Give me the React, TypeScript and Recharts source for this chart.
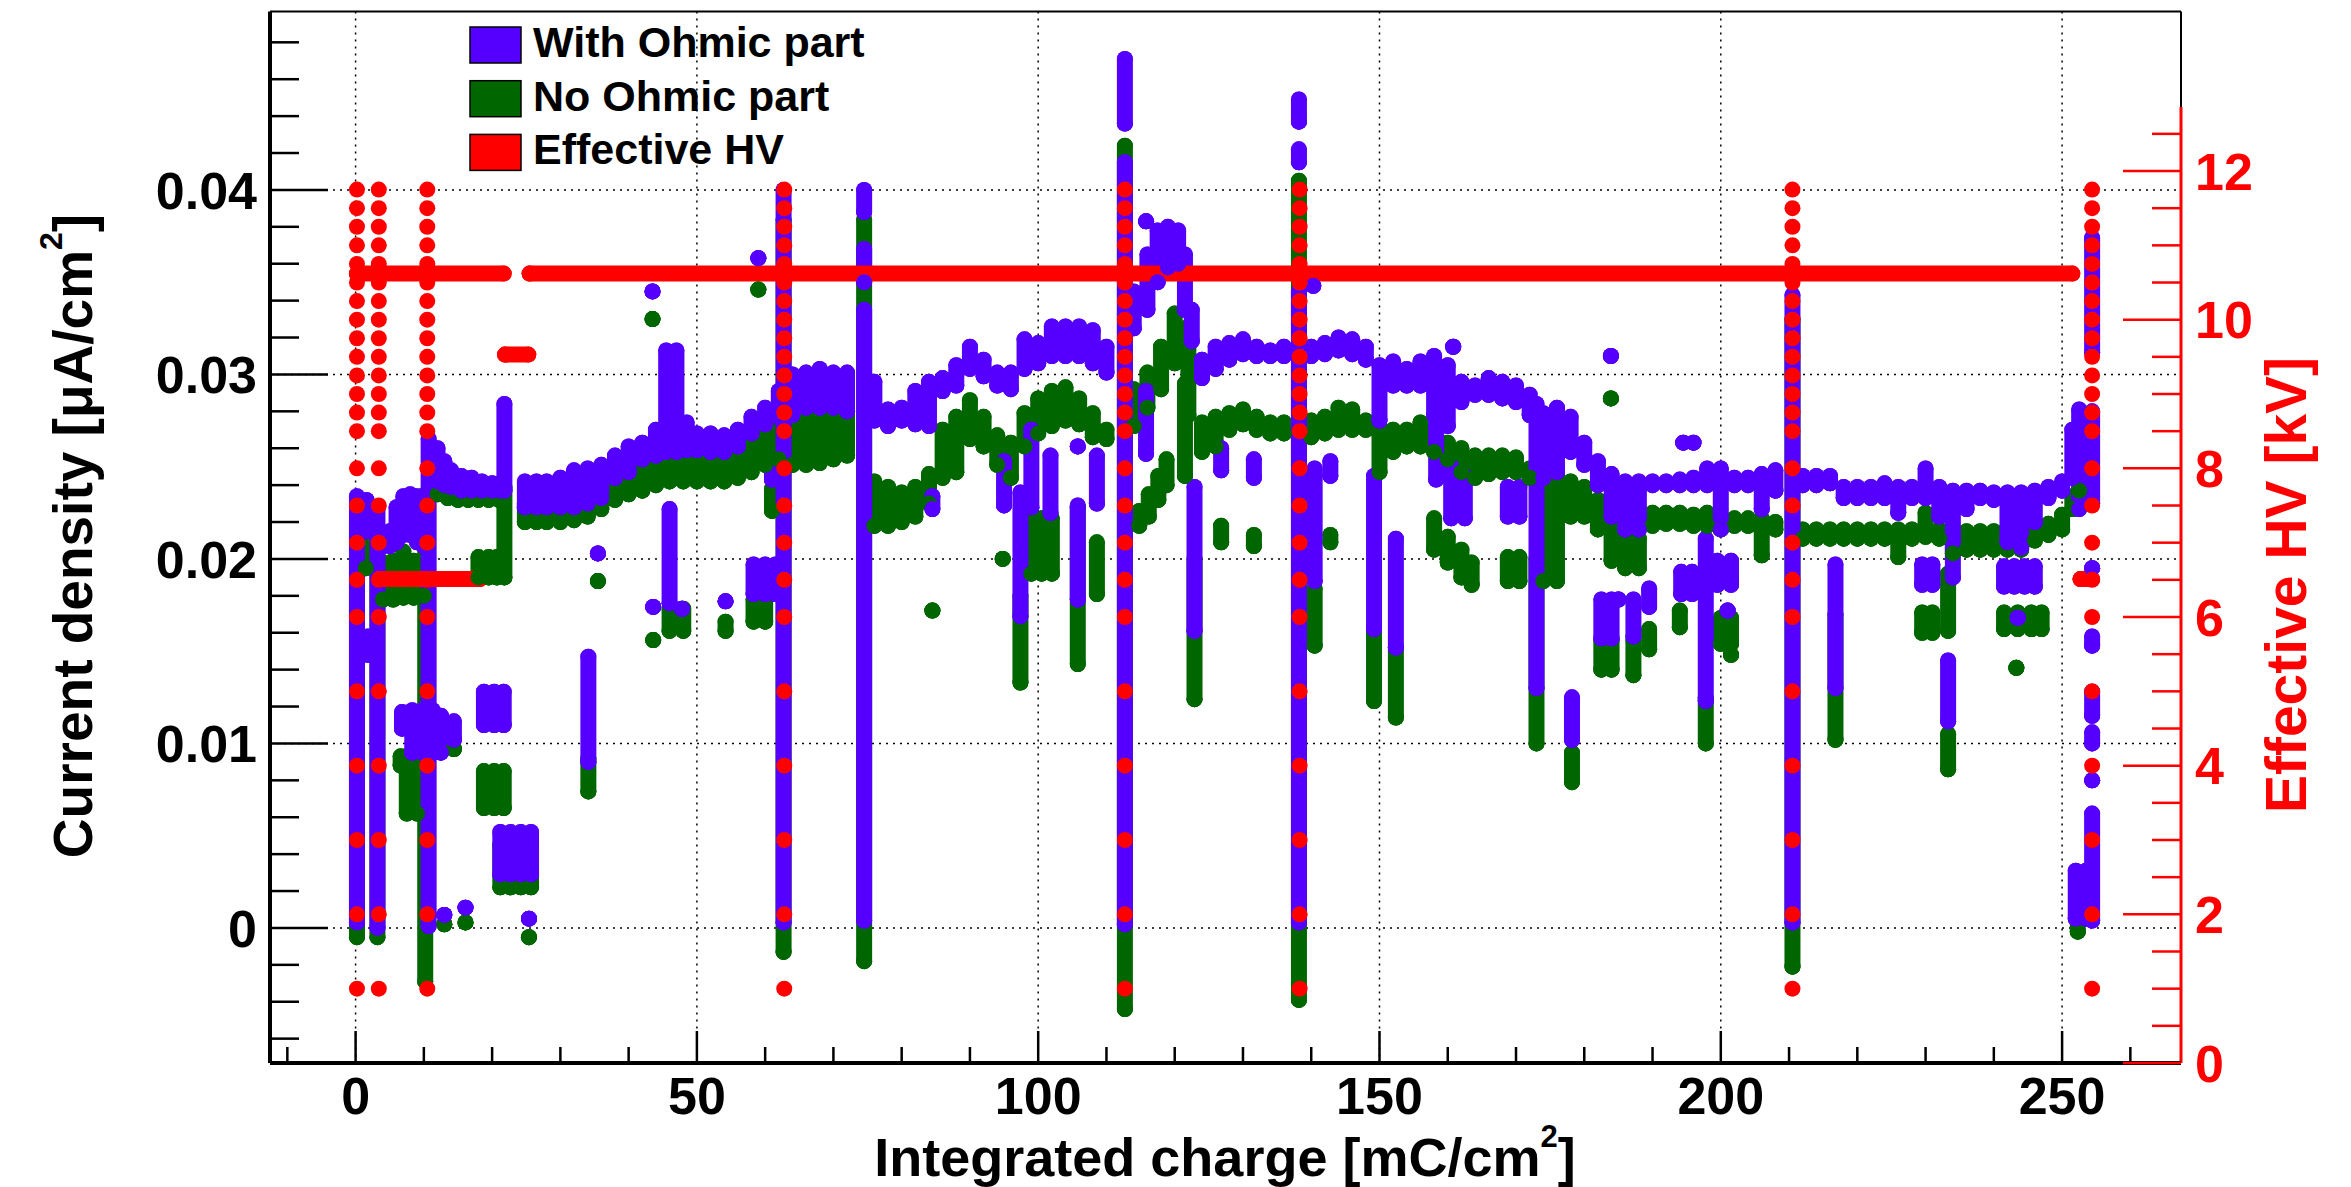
import React from 'react';
import { ScatterChart, Scatter, XAxis, YAxis, ErrorBar, CartesianGrid, ReferenceLine } from 'recharts';

const BLUE = '#5500ff';
const GREEN = '#006600';
const RED = '#ff0000';
const FONT = '"Liberation Sans", Arial, Helvetica, sans-serif';

// strips of markers: [integrated charge, lowest, highest] current density (uA/cm2)
const withOhmicBand = [
  [4, 0.0207, 0.0211], [5, 0.0207, 0.0215], [6, 0.0209, 0.0228], [7, 0.0213, 0.0234], [8, 0.0213, 0.0235],
  [9, 0.0209, 0.0234], [10, 0.0207, 0.0232], [12, 0.0242, 0.026], [13, 0.024, 0.0253], [14, 0.0239, 0.0248],
  [15.5, 0.0237, 0.0245], [17, 0.0237, 0.0244], [18.5, 0.0237, 0.0242], [20, 0.0237, 0.0241], [21.2, 0.0237, 0.0241],
  [24.8, 0.0228, 0.0242], [26.5, 0.0228, 0.0242], [28, 0.0228, 0.0242], [30, 0.0228, 0.0244], [32, 0.0228, 0.0248],
  [34, 0.023, 0.0249], [36, 0.0233, 0.0251], [38, 0.0244, 0.0256], [40, 0.0247, 0.0261], [42, 0.0254, 0.0263],
  [44, 0.0256, 0.027], [45.5, 0.0258, 0.0313], [47, 0.0258, 0.0313], [48.5, 0.0259, 0.0274], [50, 0.0259, 0.0268],
  [52, 0.0258, 0.0268], [54, 0.0258, 0.0267], [56, 0.0261, 0.027], [58, 0.0268, 0.0277], [60, 0.0273, 0.0282],
  [62, 0.0277, 0.0291], [64, 0.0278, 0.03], [66, 0.0282, 0.0301], [68, 0.0282, 0.0303], [70, 0.0282, 0.0301],
  [72, 0.028, 0.0301], [76, 0.0275, 0.0296], [78, 0.0272, 0.0281], [80, 0.0275, 0.0282], [82, 0.0273, 0.0291],
  [84, 0.0272, 0.0296], [86, 0.0291, 0.0298], [88, 0.0294, 0.0305], [90, 0.0303, 0.0315], [92, 0.0299, 0.0308],
  [94, 0.0294, 0.0301], [96, 0.0292, 0.0301], [98, 0.0303, 0.0319], [100, 0.0306, 0.0317], [102, 0.031, 0.0326],
  [104, 0.031, 0.0326], [106, 0.031, 0.0326], [108, 0.0306, 0.0324], [110, 0.0301, 0.0315], [114, 0.0325, 0.0345],
  [116, 0.0335, 0.0365], [117.5, 0.035, 0.0378], [119, 0.0358, 0.038], [120.5, 0.036, 0.0378], [121.5, 0.0335, 0.0365],
  [122.5, 0.0318, 0.0335], [124, 0.0298, 0.0308], [126, 0.0303, 0.0315], [128, 0.0308, 0.0317], [130, 0.0311, 0.0319],
  [132, 0.031, 0.0315], [134, 0.031, 0.0313], [136, 0.031, 0.0315], [140, 0.031, 0.0315], [142, 0.0311, 0.0317],
  [144, 0.0313, 0.032], [146, 0.0311, 0.0319], [148, 0.0308, 0.0315], [150, 0.0275, 0.0305], [152, 0.0294, 0.0307],
  [154, 0.0294, 0.0303], [156, 0.0294, 0.0307], [158, 0.0278, 0.031], [160, 0.0272, 0.0305], [162, 0.0285, 0.0296],
  [164, 0.0289, 0.0294], [166, 0.0289, 0.0298], [168, 0.0287, 0.0296], [170, 0.0285, 0.0294], [172, 0.0278, 0.0289],
  [174, 0.0244, 0.0279], [176, 0.0247, 0.0282], [178, 0.0258, 0.0277], [180, 0.0251, 0.0263], [182, 0.024, 0.0253],
  [184, 0.0223, 0.0246], [186, 0.0216, 0.0242], [188, 0.0216, 0.0242], [190, 0.024, 0.0242], [192, 0.024, 0.0242],
  [194, 0.024, 0.0243], [196, 0.024, 0.0244], [198, 0.024, 0.0249], [200, 0.0216, 0.0249], [202, 0.024, 0.0244],
  [204, 0.024, 0.0244], [206, 0.0227, 0.0246], [208, 0.0237, 0.0248], [212, 0.024, 0.0245], [214, 0.024, 0.0245],
  [216, 0.0241, 0.0245], [218, 0.0233, 0.0239], [220, 0.0233, 0.0239], [222, 0.0233, 0.0239], [224, 0.0233, 0.0241],
  [226, 0.0225, 0.0239], [228, 0.0233, 0.0239], [230, 0.0233, 0.0249], [232, 0.0223, 0.0239], [234, 0.019, 0.0237],
  [236, 0.0227, 0.0237], [238, 0.0233, 0.0237], [240, 0.0232, 0.0236], [242, 0.0209, 0.0236], [244, 0.0206, 0.0236],
  [246, 0.022, 0.0237], [248, 0.0233, 0.0239], [250, 0.0237, 0.0242], [251.5, 0.0244, 0.027], [252.5, 0.0227, 0.0281],
];

const withOhmicSpikes = [
  [0.2, 0.0003, 0.0234], [1.6, 0.0215, 0.0232], [1.8, 0.0148, 0.0158], [3.2, 0, 0.0227],
  [6.8, 0.0108, 0.0117], [8.3, 0.0095, 0.0118], [9.8, 0.0095, 0.0118], [11.3, 0.0095, 0.0118],
  [12.5, 0.0095, 0.0115], [10.7, 0.0001, 0.0265], [14.4, 0.0102, 0.0112], [13, 0.0007, 0.0007], [16.1, 0.0011, 0.0011],
  [25.4, 0.0005, 0.0005], [18.8, 0.011, 0.0128], [20.3, 0.011, 0.0128], [21.7, 0.011, 0.0128], [21.2, 0.0029, 0.0052],
  [22.7, 0.0029, 0.0052], [24.2, 0.0029, 0.0052], [25.7, 0.0029, 0.0052], [21.8, 0.0237, 0.0284], [34.1, 0.009, 0.0147],
  [35.5, 0.0203, 0.0203], [43.5, 0.0345, 0.0345], [59, 0.0363, 0.0363], [43.6, 0.0174, 0.0174], [46, 0.0176, 0.0227],
  [47.8, 0.0173, 0.0173], [54.2, 0.0177, 0.0177], [58.3, 0.0181, 0.0197], [60, 0.0181, 0.0197], [61.5, 0.0181, 0.0197],
  [61, 0.0243, 0.025], [62.7, 0.0003, 0.04], [74.5, 0.0004, 0.0335], [74.5, 0.035, 0.0368], [74.5, 0.0388, 0.04],
  [84.5, 0.0227, 0.0234], [95, 0.0229, 0.0253], [97.4, 0.0169, 0.0236], [99, 0.0228, 0.027], [101.8, 0.0225, 0.0256],
  [105.8, 0.0178, 0.0229], [105.8, 0.0261, 0.0261], [108.6, 0.023, 0.0256], [112.7, 0.0002, 0.0415], [112.7, 0.0436, 0.0471],
  [115.8, 0.0383, 0.0383], [115.8, 0.0257, 0.0291], [122.9, 0.0161, 0.0239], [126.8, 0.0248, 0.026], [131.6, 0.0244, 0.0254],
  [138.2, 0.0003, 0.0345], [138.2, 0.0415, 0.0422], [138.2, 0.0437, 0.0449], [140.3, 0.0348, 0.0348], [140.5, 0.0188, 0.0249],
  [142.8, 0.0245, 0.0253], [149.2, 0.0162, 0.0245], [152.4, 0.0152, 0.0211], [158.3, 0.0243, 0.0274], [160.5, 0.0222, 0.025],
  [162.5, 0.0222, 0.0245], [160.8, 0.0315, 0.0315], [168.8, 0.0223, 0.0239], [170.5, 0.0223, 0.0239], [173, 0.013, 0.0284],
  [178.2, 0.0102, 0.0125], [182.5, 0.0157, 0.0178], [184, 0.0157, 0.0178], [187.2, 0.0158, 0.0178], [185, 0.0178, 0.0178],
  [189.5, 0.0174, 0.0184], [183.9, 0.031, 0.031], [194.5, 0.0263, 0.0263], [196, 0.0263, 0.0263], [194.2, 0.0181, 0.0193],
  [195.8, 0.0181, 0.0193], [197.8, 0.0123, 0.0211], [199.5, 0.0186, 0.0199], [201.5, 0.0186, 0.0199], [201, 0.0172, 0.0172],
  [210.5, 0.0003, 0.0343], [216.8, 0.013, 0.0197], [229.5, 0.0186, 0.0197], [231, 0.0186, 0.0197], [233.3, 0.0112, 0.0145],
  [241.5, 0.0185, 0.0196], [243, 0.0185, 0.0196], [244.5, 0.0185, 0.0196], [246, 0.0185, 0.0196], [243.5, 0.0168, 0.0168],
  [252, 0.0005, 0.0031], [253.5, 0.0005, 0.0031], [254.4, 0.0004, 0.0062], [254.4, 0.008, 0.008], [254.4, 0.01, 0.0106],
  [254.4, 0.0115, 0.0128], [254.4, 0.0153, 0.0158], [254.4, 0.0195, 0.0195], [254.4, 0.023, 0.028], [254.4, 0.0312, 0.0374],
];

const noOhmicBand = [
  [4, 0.0178, 0.0198], [5.5, 0.0178, 0.0199], [7, 0.0179, 0.0204], [8.5, 0.0179, 0.0199], [10, 0.018, 0.0198],
  [12, 0.0235, 0.0242], [13.5, 0.0233, 0.024], [15, 0.0232, 0.0238], [16.5, 0.0232, 0.0238], [18, 0.0232, 0.0238],
  [19.5, 0.0232, 0.0238], [21, 0.0232, 0.0238], [24.8, 0.022, 0.023], [26.5, 0.022, 0.023], [28, 0.022, 0.023],
  [30, 0.022, 0.023], [32, 0.0221, 0.0231], [34, 0.0223, 0.0233], [36, 0.0227, 0.0236], [38, 0.0232, 0.0246],
  [40, 0.0235, 0.025], [42, 0.0237, 0.0253], [44, 0.024, 0.0255], [46, 0.0242, 0.0257], [48, 0.0242, 0.0257],
  [50, 0.0242, 0.0257], [52, 0.0242, 0.0257], [54, 0.0242, 0.0257], [56, 0.0244, 0.026], [58, 0.0247, 0.0265],
  [60, 0.0251, 0.027], [62, 0.0254, 0.0275], [64, 0.0251, 0.0277], [66, 0.0251, 0.0278], [68, 0.0252, 0.0278],
  [70, 0.0254, 0.0278], [72, 0.0256, 0.0278], [76, 0.0218, 0.0242], [78, 0.0218, 0.0239], [80, 0.022, 0.0236],
  [82, 0.0223, 0.0239], [84, 0.023, 0.0246], [86, 0.0244, 0.027], [88, 0.0247, 0.0277], [90, 0.0265, 0.0286],
  [92, 0.0261, 0.0277], [94, 0.0251, 0.0267], [96, 0.0244, 0.0263], [98, 0.0261, 0.0279], [100, 0.0268, 0.0287],
  [102, 0.0272, 0.0291], [104, 0.0275, 0.0293], [106, 0.0273, 0.0287], [108, 0.0266, 0.0279], [110, 0.0265, 0.027],
  [114, 0.0272, 0.0292], [116, 0.0282, 0.0301], [118, 0.0292, 0.0315], [120, 0.0306, 0.0333], [122, 0.0278, 0.0326],
  [124, 0.0258, 0.0274], [126, 0.0261, 0.0277], [128, 0.027, 0.0279], [130, 0.0273, 0.0281], [132, 0.027, 0.0277],
  [134, 0.0268, 0.0274], [136, 0.0268, 0.0274], [140, 0.0266, 0.0275], [142, 0.0268, 0.0277], [144, 0.027, 0.0282],
  [146, 0.027, 0.0281], [148, 0.027, 0.0275], [150, 0.0247, 0.0272], [152, 0.0258, 0.027], [154, 0.0261, 0.027],
  [156, 0.0261, 0.0274], [158, 0.0258, 0.027], [160, 0.0254, 0.0263], [162, 0.0247, 0.026], [164, 0.0244, 0.0256],
  [166, 0.0246, 0.0256], [168, 0.0247, 0.0256], [170, 0.0247, 0.0255], [172, 0.0244, 0.0249], [174, 0.0188, 0.0253],
  [176, 0.0188, 0.0249], [178, 0.0223, 0.0242], [180, 0.0223, 0.0239], [182, 0.0216, 0.0232], [184, 0.0199, 0.0222],
  [186, 0.0195, 0.0215], [188, 0.0195, 0.0211], [190, 0.0218, 0.0225], [192, 0.0219, 0.0225], [194, 0.0219, 0.0225],
  [196, 0.0218, 0.0224], [198, 0.0218, 0.0225], [200, 0.0216, 0.0222], [202, 0.0218, 0.0222], [204, 0.0218, 0.0222],
  [206, 0.0202, 0.0222], [208, 0.0216, 0.022], [212, 0.0211, 0.0216], [214, 0.0211, 0.0216], [216, 0.0211, 0.0216],
  [218, 0.0211, 0.0216], [220, 0.0211, 0.0216], [222, 0.0211, 0.0216], [224, 0.0211, 0.0216], [226, 0.0201, 0.0216],
  [228, 0.0211, 0.0216], [230, 0.0212, 0.0225], [232, 0.0211, 0.0216], [234, 0.0203, 0.0216], [236, 0.0205, 0.0215],
  [238, 0.0205, 0.0215], [240, 0.0205, 0.0215], [242, 0.0205, 0.0215], [244, 0.0205, 0.0215], [246, 0.021, 0.0217],
  [248, 0.0213, 0.0219], [250, 0.0216, 0.0224], [251.5, 0.0227, 0.0234], [252.5, 0.0237, 0.0253],
];

const noOhmicSpikes = [
  [0.2, -0.0005, 0.022], [1.5, 0.0195, 0.0215], [3.2, -0.0005, 0.0215],
  [6.6, 0.0088, 0.0093], [7.5, 0.0062, 0.0093], [9, 0.0062, 0.0093], [10.2, -0.0029, 0.0235], [14.4, 0.0097, 0.0097],
  [13, 0.0002, 0.0002], [16.1, 0.0003, 0.0003], [25.4, -0.0005, -0.0005], [18.8, 0.0065, 0.0085], [20.3, 0.0065, 0.0085],
  [21.7, 0.0065, 0.0085], [21.2, 0.0022, 0.0045], [22.7, 0.0022, 0.0045], [24.2, 0.0022, 0.0045], [25.7, 0.0022, 0.0045],
  [18, 0.019, 0.0201], [19.5, 0.019, 0.0201], [20.7, 0.019, 0.0201], [21.8, 0.019, 0.0239], [34.1, 0.0074, 0.0092],
  [35.5, 0.0188, 0.0188], [43.5, 0.033, 0.033], [59, 0.0346, 0.0346], [43.6, 0.0156, 0.0156], [46, 0.0161, 0.0173],
  [48, 0.0161, 0.0173], [54.2, 0.0161, 0.0166], [58.3, 0.0166, 0.0178], [60, 0.0166, 0.0178], [61, 0.0226, 0.0238],
  [62.7, -0.0013, 0.0384], [74.5, -0.0018, 0.0384], [84.5, 0.0172, 0.0172], [94.8, 0.02, 0.02], [97.4, 0.0133, 0.018],
  [99, 0.0192, 0.0222], [100.5, 0.0192, 0.0222], [102, 0.0192, 0.0222], [105.8, 0.0143, 0.0228], [108.6, 0.0181, 0.0209],
  [112.7, -0.0044, 0.0424], [114.8, 0.0218, 0.0226], [116.2, 0.0223, 0.0235], [117.6, 0.0232, 0.0245], [118.8, 0.024, 0.0254],
  [121.5, 0.0245, 0.0295], [122.9, 0.0124, 0.02], [126.8, 0.0209, 0.0218], [131.6, 0.0207, 0.0213], [138.2, -0.0039, 0.0405],
  [140.5, 0.0153, 0.0184], [142.8, 0.0209, 0.0213], [149.2, 0.0123, 0.016], [152.4, 0.0114, 0.0152], [158, 0.0205, 0.0222],
  [160, 0.0198, 0.0212], [162, 0.019, 0.0205], [163.5, 0.0186, 0.0198], [168.8, 0.0188, 0.0201], [170.5, 0.0188, 0.0201],
  [173, 0.01, 0.02], [178.2, 0.0079, 0.0095], [182.5, 0.014, 0.0156], [184, 0.014, 0.0156], [187.2, 0.0137, 0.0156],
  [189.5, 0.0151, 0.0162], [183.9, 0.0287, 0.0287], [194, 0.0163, 0.0172], [197.8, 0.01, 0.0125], [200, 0.0154, 0.0168],
  [201.5, 0.0154, 0.0168], [201.5, 0.0148, 0.0148], [210.5, -0.0021, 0.033], [216.8, 0.0102, 0.017], [229.5, 0.016, 0.0171],
  [231, 0.016, 0.0171], [233.3, 0.0161, 0.0192], [233.3, 0.0086, 0.0105], [241.5, 0.0162, 0.0171], [243.5, 0.0162, 0.0171],
  [245.5, 0.0162, 0.0171], [247, 0.0162, 0.0171], [243.3, 0.0141, 0.0141], [252.3, -0.0002, 0.0012],
];

// effective HV (kV): scans at these integrated charges, over these steps
const hvScanCharges = [0.2, 3.4, 10.5, 62.8, 112.7, 138.3, 210.5, 254.4];
const hvScanSteps = [11.75, 11.5, 11.25, 11, 10.75, 10.5, 10.25, 10, 9.75, 9.5, 9.25, 9, 8.75, 8.5, 8, 7.5, 7, 6.5, 6, 5, 4, 3, 2, 1];
// [from charge, to charge, kV]
const hvPlateaus = [
  [0.2, 21.7, 10.62], [25.5, 251.5, 10.62], [3.5, 18.2, 6.51], [21.9, 25.3, 9.53], [252.7, 254.4, 6.51],
];

const chargeMajorTicks = [0, 50, 100, 150, 200, 250];
const chargeMinorTicks = [-10, 10, 20, 30, 40, 60, 70, 80, 90, 110, 120, 130, 140, 160, 170, 180, 190, 210, 220, 230, 240, 260];
const currentMajorTicks = [0, 0.01, 0.02, 0.03, 0.04];
const currentMinorTicks = [-0.006, -0.004, -0.002, 0.002, 0.004, 0.006, 0.008, 0.012, 0.014, 0.016, 0.018, 0.022, 0.024,
  0.026, 0.028, 0.032, 0.034, 0.036, 0.038, 0.042, 0.044, 0.046, 0.048];
const hvMajorTicks = [0, 2, 4, 6, 8, 10, 12];
const hvMinorTicks = [0.5, 1, 1.5, 2.5, 3, 3.5, 4.5, 5, 5.5, 6.5, 7, 7.5, 8.5, 9, 9.5, 10.5, 11, 11.5, 12.5];

const CHARGE_DOMAIN = [-12.54, 267.42];
const CURRENT_DOMAIN = [-0.00732, 0.04967];
const HV_DOMAIN = [0, 14.146];
const HV_AXIS_TOP = 12.86;

const toStrips = (rows: number[][]) => rows.map(([q, lo, hi]) => ({ q, lo, err: [0, hi - lo] }));
const blueData = toStrips([...withOhmicBand, ...withOhmicSpikes]);
const greenData = toStrips([...noOhmicBand, ...noOhmicSpikes]);
const hvScanData = hvScanCharges.flatMap((q) => hvScanSteps.map((kv) => ({ q, kv })));
const hvPlateauData = hvPlateaus.map(([a, b, kv]) => ({ q: a, kv, span: [0, b - a] }));

const isIn = (list: number[], v: number) => list.some((t) => Math.abs(t - v) < 1e-9);
const sortNum = (a: number[]) => [...a].sort((x, y) => x - y);

const TICK_FS = 52;
const R = 8;

const dot = (color: string) => (p: any) => <circle cx={p.cx} cy={p.cy} r={R} fill={color} />;

const ChargeTick = (props: any) => {
  const { x, y, payload } = props;
  const major = isIn(chargeMajorTicks, payload.value);
  return (
    <g>
      <line x1={x} x2={x} y1={y} y2={y - (major ? 32 : 16)} stroke="#000" strokeWidth={2.5} />
      {major && (
        <text x={x} y={y + 51} textAnchor="middle" fontFamily={FONT} fontWeight="bold" fontSize={TICK_FS} fill="#000">
          {String(payload.value)}
        </text>
      )}
    </g>
  );
};

const CurrentTick = (props: any) => {
  const { x, y, payload } = props;
  const major = isIn(currentMajorTicks, payload.value);
  return (
    <g>
      <line x1={x} x2={x + (major ? 58 : 29)} y1={y} y2={y} stroke="#000" strokeWidth={2.5} />
      {major && (
        <text x={x - 13} y={y + 0.36 * TICK_FS} textAnchor="end" fontFamily={FONT} fontWeight="bold" fontSize={TICK_FS} fill="#000">
          {String(payload.value)}
        </text>
      )}
    </g>
  );
};

const HvTick = (props: any) => {
  const { x, y, payload } = props;
  const major = isIn(hvMajorTicks, payload.value);
  return (
    <g>
      <line x1={x} x2={x - (major ? 58 : 29)} y1={y} y2={y} stroke={RED} strokeWidth={2.5} />
      {major && (
        <text x={x + 14} y={y + 0.36 * TICK_FS} textAnchor="start" fontFamily={FONT} fontWeight="bold" fontSize={TICK_FS} fill={RED}>
          {String(payload.value)}
        </text>
      )}
    </g>
  );
};

const legendItems = [
  { label: 'With Ohmic part', color: BLUE },
  { label: 'No Ohmic part', color: GREEN },
  { label: 'Effective HV', color: RED },
];

export default function App() {
  return (
    <div style={{ position: 'absolute', left: 0, top: 0, width: 2351, height: 1187, background: '#fff' }}>
      <ScatterChart width={2351} height={1187} margin={{ top: 10.5, right: 169, bottom: 123, left: 269 }}>
        <CartesianGrid
          xAxisId="q"
          yAxisId="j"
          horizontalValues={currentMajorTicks}
          verticalValues={chargeMajorTicks}
          stroke="#000"
          strokeWidth={1.5}
          strokeDasharray="2 5"
        />
        <XAxis
          xAxisId="q"
          dataKey="q"
          type="number"
          domain={CHARGE_DOMAIN}
          allowDataOverflow
          ticks={sortNum([...chargeMajorTicks, ...chargeMinorTicks])}
          interval={0}
          tickSize={0}
          tickMargin={0}
          tick={<ChargeTick />}
          axisLine={{ stroke: '#000', strokeWidth: 4 }}
          height={1}
        />
        <XAxis
          xAxisId="top"
          orientation="top"
          type="number"
          domain={CHARGE_DOMAIN}
          allowDataOverflow
          ticks={chargeMajorTicks}
          tick={false}
          tickLine={false}
          axisLine={{ stroke: '#000', strokeWidth: 2 }}
          height={1}
        />
        <YAxis
          yAxisId="j"
          dataKey="lo"
          type="number"
          domain={CURRENT_DOMAIN}
          allowDataOverflow
          ticks={sortNum([...currentMajorTicks, ...currentMinorTicks])}
          interval={0}
          tickSize={0}
          tickMargin={0}
          tick={<CurrentTick />}
          axisLine={{ stroke: '#000', strokeWidth: 4 }}
          width={1}
        />
        <YAxis
          yAxisId="hv"
          orientation="right"
          dataKey="kv"
          type="number"
          domain={HV_DOMAIN}
          allowDataOverflow
          ticks={sortNum([...hvMajorTicks, ...hvMinorTicks])}
          interval={0}
          tickSize={0}
          tickMargin={0}
          tick={<HvTick />}
          axisLine={false}
          width={1}
        />
        <ReferenceLine
          xAxisId="q"
          yAxisId="hv"
          ifOverflow="visible"
          segment={[{ x: CHARGE_DOMAIN[1], y: 0 }, { x: CHARGE_DOMAIN[1], y: HV_AXIS_TOP }]}
          stroke={RED}
          strokeWidth={3}
        />
        <ReferenceLine
          xAxisId="q"
          yAxisId="hv"
          ifOverflow="visible"
          segment={[{ x: CHARGE_DOMAIN[1], y: HV_AXIS_TOP }, { x: CHARGE_DOMAIN[1], y: HV_DOMAIN[1] }]}
          stroke="#000"
          strokeWidth={2}
        />
        <Scatter name="No Ohmic part" data={greenData} xAxisId="q" yAxisId="j" fill={GREEN} shape={dot(GREEN)} isAnimationActive={false}>
          <ErrorBar dataKey="err" direction="y" width={0} stroke={GREEN} strokeWidth={2 * R} strokeLinecap="round" isAnimationActive={false} />
        </Scatter>
        <Scatter name="With Ohmic part" data={blueData} xAxisId="q" yAxisId="j" fill={BLUE} shape={dot(BLUE)} isAnimationActive={false}>
          <ErrorBar dataKey="err" direction="y" width={0} stroke={BLUE} strokeWidth={2 * R} strokeLinecap="round" isAnimationActive={false} />
        </Scatter>
        <Scatter name="Effective HV" data={hvPlateauData} xAxisId="q" yAxisId="hv" fill={RED} shape={dot(RED)} isAnimationActive={false}>
          <ErrorBar dataKey="span" direction="x" width={0} stroke={RED} strokeWidth={2 * R} strokeLinecap="round" isAnimationActive={false} />
        </Scatter>
        <Scatter name="Effective HV scans" data={hvScanData} xAxisId="q" yAxisId="hv" fill={RED} shape={dot(RED)} isAnimationActive={false} />
      </ScatterChart>

      <svg width={2351} height={1187} style={{ position: 'absolute', left: 0, top: 0, pointerEvents: 'none' }}>
        {legendItems.map((item, i) => (
          <g key={item.label}>
            <rect x={470} y={27 + i * 53.7} width={51} height={36} fill={item.color} stroke="#000" strokeWidth={1.5} />
            <text x={533} y={57 + i * 53.7} fontFamily={FONT} fontWeight="bold" fontSize={43} fill="#000">
              {item.label}
            </text>
          </g>
        ))}
        <text x={1225} y={1176} textAnchor="middle" fontFamily={FONT} fontWeight="bold" fontSize={54} fill="#000">
          Integrated charge [mC/cm<tspan dy={-29} fontSize={31}>2</tspan><tspan dy={29}>]</tspan>
        </text>
        <text transform="translate(92,536) rotate(-90)" textAnchor="middle" fontFamily={FONT} fontWeight="bold" fontSize={55} fill="#000">
          Current density [μA/cm<tspan dy={-30} fontSize={32}>2</tspan><tspan dy={30}>]</tspan>
        </text>
        <text transform="translate(2306,585) rotate(-90)" textAnchor="middle" fontFamily={FONT} fontWeight="bold" fontSize={57} fill={RED}>
          Effective HV [kV]
        </text>
      </svg>
    </div>
  );
}
